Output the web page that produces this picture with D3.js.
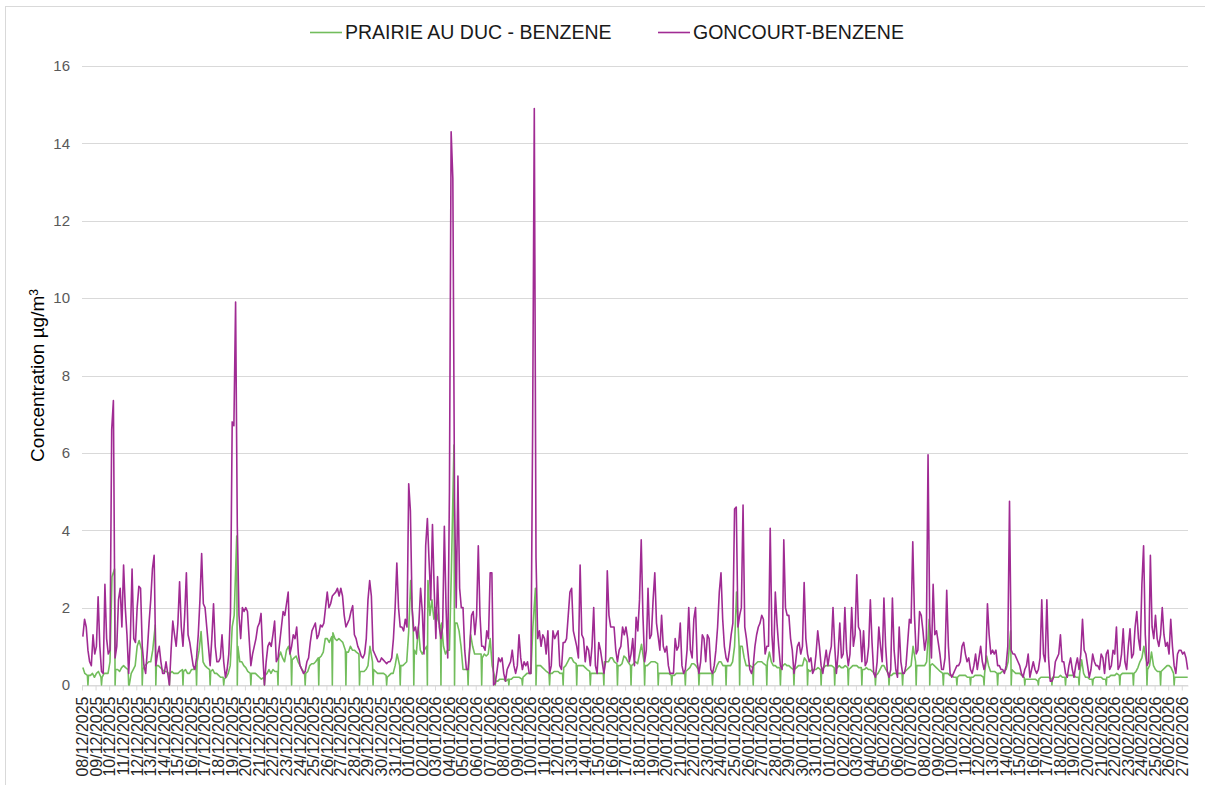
<!DOCTYPE html>
<html>
<head>
<meta charset="utf-8">
<script src="https://cdn.jsdelivr.net/npm/d3@7"></script>
<style>
  body { margin: 0; background: #fff; }
  svg { display: block; font-family: "Liberation Sans", Arial, sans-serif; }
</style>
</head>
<body>
<svg id="chart" width="1205" height="785"></svg>
<script>
// one label per day (category axis labelled every 24 hourly values)
const dayLabels = [
  '08/12/2025','09/12/2025','10/12/2025','11/12/2025','12/12/2025','13/12/2025','14/12/2025','15/12/2025',
  '16/12/2025','17/12/2025','18/12/2025','19/12/2025','20/12/2025','21/12/2025','22/12/2025','23/12/2025',
  '24/12/2025','25/12/2025','26/12/2025','27/12/2025','28/12/2025','29/12/2025','30/12/2025','31/12/2025',
  '01/01/2026','02/01/2026','03/01/2026','04/01/2026','05/01/2026','06/01/2026','07/01/2026','08/01/2026',
  '09/01/2026','10/01/2026','11/01/2026','12/01/2026','13/01/2026','14/01/2026','15/01/2026','16/01/2026',
  '17/01/2026','18/01/2026','19/01/2026','20/01/2026','21/01/2026','22/01/2026','23/01/2026','24/01/2026',
  '25/01/2026','26/01/2026','27/01/2026','28/01/2026','29/01/2026','30/01/2026','31/01/2026','01/02/2026',
  '02/02/2026','03/02/2026','04/02/2026','05/02/2026','06/02/2026','07/02/2026','08/02/2026','09/02/2026',
  '10/02/2026','11/02/2026','12/02/2026','13/02/2026','14/02/2026','15/02/2026','16/02/2026','17/02/2026',
  '18/02/2026','19/02/2026','20/02/2026','21/02/2026','22/02/2026','23/02/2026','24/02/2026','25/02/2026',
  '26/02/2026','27/02/2026'
];

// each row = one day; hour of day of every reading in the row
const goncourtHours = [1.5, 4.5, 7.5, 10.5, 13.5, 16.5, 19.5, 22.5];
// prairie: daily zero reading around 10:30 sits between its two neighbours
const prairieHours = [1.5, 5, 9.5, 10.5, 11.5, 15, 18.5, 22];
const lastHour = 1955;

const yTicks = [0, 2, 4, 6, 8, 10, 12, 14, 16];
const seriesNames = ['PRAIRIE AU DUC - BENZENE', 'GONCOURT-BENZENE'];
const seriesColors = ['#72bd5c', '#a02b93'];

const prairie = [
  [0.45, 0.3, 0.25, 0, 0.25, 0.25, 0.3, 0.2],
  [0.3, 0.35, 0.2, 0, 0.2, 0.3, 0.3, 0.3],
  [0.6, 2.8, 3.0, 0, 0.4, 0.4, 0.35, 0.45],
  [0.5, 0.45, 0.4, 0, 0, 0.3, 0.4, 0.5],
  [1.0, 1.15, 0.9, 0, 0.4, 0.5, 0.55, 0.6],
  [0.6, 0.9, 1.55, 0, 0.5, 0.5, 0.45, 0.4],
  [0.35, 0.35, 0.3, 0, 0.3, 0.35, 0.3, 0.3],
  [0.3, 0.35, 0.4, 0, 0.35, 0.4, 0.3, 0.3],
  [0.4, 0.4, 0.5, 0, 0.6, 0.9, 1.38, 0.6],
  [0.5, 0.45, 0.4, 0, 0.35, 0.4, 0.3, 0.3],
  [0.25, 0.2, 0.2, 0, 0.15, 0.2, 0.3, 0.5],
  [1.5, 1.8, 3.85, 0, 1.0, 0.6, 0.6, 0.5],
  [0.45, 0.35, 0.3, 0, 0.3, 0.3, 0.3, 0.25],
  [0.2, 0.15, 0.2, 0, 0.25, 0.3, 0.4, 0.3],
  [0.4, 0.35, 0.35, 0, 0.7, 0.85, 0.7, 0.6],
  [0.9, 1.0, 0.7, 0, 0.65, 0.7, 0.75, 0.6],
  [0.5, 0.4, 0.3, 0, 0.3, 0.35, 0.5, 0.55],
  [0.55, 0.6, 0.7, 0, 0.7, 0.75, 0.85, 1.2],
  [1.2, 1.1, 1.25, 0, 1.35, 1.2, 1.15, 1.2],
  [1.15, 1.1, 0.9, 0, 0.85, 0.85, 1.0, 0.9],
  [0.9, 0.85, 0.8, 0, 0.35, 0.35, 0.35, 0.4],
  [0.5, 1.0, 0.6, 0, 0.4, 0.35, 0.3, 0.3],
  [0.3, 0.3, 0.25, 0, 0.2, 0.25, 0.3, 0.3],
  [0.5, 0.8, 0.5, 0, 0.5, 0.5, 0.55, 0.6],
  [1.4, 2.7, 1.4, 0, 0.9, 0.8, 1.5, 0.9],
  [0.8, 0.9, 1.0, 0, 2.7, 1.8, 2.2, 1.7],
  [2.0, 1.7, 1.5, 0, 1.6, 1.0, 0.8, 0.9],
  [0.9, 3.0, 6.2, 0, 1.6, 1.6, 1.4, 1.0],
  [0.4, 0.4, 0.4, 0, 0.5, 1.3, 1.0, 0.8],
  [0.8, 0.8, 0.8, 0, 0.7, 0.8, 0.75, 0.8],
  [1.2, 0.5, 0.2, 0, 0.1, 0.1, 0.15, 0.15],
  [0.15, 0.1, 0.15, 0, 0.15, 0.15, 0.2, 0.2],
  [0.2, 0.2, 0.15, 0, 0.2, 0.25, 0.3, 0.3],
  [0.3, 1.5, 2.5, 0, 0.5, 0.5, 0.5, 0.45],
  [0.4, 0.35, 0.3, 0, 0.3, 0.3, 0.35, 0.35],
  [0.35, 0.3, 0.3, 0, 0.45, 0.5, 0.6, 0.7],
  [0.7, 0.6, 0.55, 0, 0.5, 0.5, 0.5, 0.5],
  [0.45, 0.4, 0.35, 0, 0.3, 0.3, 0.3, 0.3],
  [0.3, 0.3, 0.3, 0, 0.6, 0.6, 0.6, 0.7],
  [0.7, 0.6, 0.55, 0, 0.5, 0.5, 0.55, 0.75],
  [0.7, 0.6, 0.5, 0, 0.5, 0.55, 0.6, 0.55],
  [0.8, 1.05, 0.6, 0, 0.5, 0.5, 0.55, 0.6],
  [0.6, 0.6, 0.55, 0, 0.3, 0.3, 0.3, 0.3],
  [0.3, 0.3, 0.25, 0, 0.25, 0.25, 0.3, 0.3],
  [0.3, 0.3, 0.3, 0, 0.35, 0.4, 0.45, 0.55],
  [0.55, 0.5, 0.4, 0, 0.3, 0.3, 0.3, 0.3],
  [0.3, 0.3, 0.3, 0, 0.3, 0.35, 0.5, 0.6],
  [0.6, 0.5, 0.5, 0, 0.5, 0.5, 0.5, 0.6],
  [1.0, 2.4, 1.0, 0, 1.0, 1.0, 0.7, 0.5],
  [0.5, 0.5, 0.45, 0, 0.5, 0.55, 0.6, 0.6],
  [0.6, 0.55, 0.5, 0, 0.6, 0.85, 0.6, 0.5],
  [0.5, 0.45, 0.45, 0, 0.4, 0.5, 0.55, 0.5],
  [0.5, 0.45, 0.4, 0, 0.4, 0.45, 0.5, 0.5],
  [0.5, 0.7, 0.6, 0, 0.4, 0.35, 0.4, 0.4],
  [0.4, 0.45, 0.4, 0, 0.4, 0.45, 0.5, 0.5],
  [0.5, 0.5, 0.45, 0, 0.4, 0.45, 0.5, 0.45],
  [0.45, 0.5, 0.45, 0, 0.4, 0.45, 0.5, 0.5],
  [0.5, 0.45, 0.45, 0, 0.4, 0.4, 0.45, 0.4],
  [0.4, 0.35, 0.3, 0, 0.25, 0.3, 0.4, 0.5],
  [0.5, 0.4, 0.3, 0, 0.25, 0.25, 0.3, 0.3],
  [0.3, 0.3, 0.3, 0, 0.3, 0.35, 0.4, 0.45],
  [0.5, 1.0, 0.6, 0, 0.5, 0.5, 0.5, 0.5],
  [0.5, 0.6, 1.7, 0, 0.5, 0.55, 0.5, 0.45],
  [0.4, 0.35, 0.3, 0, 0.3, 0.3, 0.3, 0.25],
  [0.25, 0.2, 0.2, 0, 0.2, 0.25, 0.25, 0.25],
  [0.25, 0.2, 0.2, 0, 0.2, 0.2, 0.25, 0.25],
  [0.25, 0.25, 0.2, 0, 0.3, 0.75, 0.5, 0.35],
  [0.35, 0.35, 0.3, 0, 0.3, 0.3, 0.35, 0.35],
  [0.4, 0.6, 1.4, 0, 0.4, 0.35, 0.3, 0.3],
  [0.3, 0.25, 0.2, 0, 0.15, 0.15, 0.15, 0.15],
  [0.15, 0.15, 0.1, 0, 0.15, 0.2, 0.2, 0.2],
  [0.2, 0.2, 0.15, 0, 0.2, 0.2, 0.2, 0.2],
  [0.25, 0.2, 0.2, 0, 0.2, 0.25, 0.25, 0.25],
  [0.25, 0.2, 0.2, 0, 0.3, 0.65, 0.3, 0.2],
  [0.2, 0.15, 0.15, 0, 0.15, 0.2, 0.2, 0.2],
  [0.2, 0.15, 0.15, 0, 0.2, 0.2, 0.25, 0.25],
  [0.25, 0.3, 0.25, 0, 0.25, 0.3, 0.3, 0.3],
  [0.3, 0.3, 0.3, 0, 0.3, 0.35, 0.45, 0.6],
  [0.7, 1.0, 0.6, 0, 0.4, 0.5, 0.85, 0.5],
  [0.4, 0.35, 0.35, 0, 0.35, 0.4, 0.45, 0.5],
  [0.5, 0.45, 0.3, 0, 0.2, 0.2, 0.2, 0.2],
  [0.2, 0.2, 0.2, 0.2]
];

const goncourt = [
  [1.25, 1.7, 1.5, 0.9, 0.6, 0.5, 1.3, 0.8],
  [1.0, 2.28, 1.0, 0.35, 0.3, 2.6, 1.2, 0.8],
  [0.9, 6.6, 7.35, 0.7, 1.0, 2.2, 2.5, 1.5],
  [3.1, 2.0, 1.3, 0.3, 1.2, 3.0, 1.2, 1.1],
  [2.0, 2.55, 2.5, 1.0, 0.5, 0.3, 0.9, 1.6],
  [2.2, 3.0, 3.35, 0.5, 0.8, 1.0, 0.6, 0.3],
  [0.3, 0.6, 0.3, 0.0, 0.9, 1.65, 1.3, 1.0],
  [1.6, 2.67, 1.5, 1.0, 1.8, 2.9, 1.3, 1.1],
  [0.8, 0.5, 0.4, 0.7, 1.3, 2.2, 3.4, 2.1],
  [2.0, 1.5, 1.0, 0.5, 1.2, 2.1, 1.0, 0.6],
  [0.6, 0.7, 1.3, 0.6, 0.2, 0.4, 0.8, 1.9],
  [6.8, 6.7, 9.9, 4.1, 1.8, 1.2, 2.0, 1.9],
  [2.0, 1.9, 1.2, 0.5, 0.8, 1.0, 1.2, 1.5],
  [1.6, 1.85, 0.8, 0.0, 0.6, 1.0, 1.1, 1.0],
  [1.3, 1.65, 0.6, 0.7, 1.1, 1.5, 1.9, 1.8],
  [2.1, 2.4, 0.8, 1.0, 1.3, 1.2, 1.5, 0.8],
  [0.5, 0.4, 0.3, 0.35, 0.6, 0.7, 1.1, 1.4],
  [1.5, 1.6, 1.2, 1.3, 1.55, 1.5, 1.6, 2.0],
  [2.4, 2.0, 2.1, 2.3, 2.35, 2.4, 2.5, 2.3],
  [2.5, 2.3, 1.8, 1.5, 1.6, 1.7, 1.9, 2.05],
  [1.3, 1.2, 1.0, 0.9, 0.75, 0.7, 0.8, 1.2],
  [2.2, 2.7, 2.3, 0.9, 0.8, 0.7, 0.6, 0.6],
  [0.7, 0.65, 0.6, 0.55, 0.6, 0.6, 0.7, 1.2],
  [2.0, 3.15, 2.0, 1.5, 1.5, 1.4, 1.7, 1.5],
  [5.2, 4.5, 2.0, 1.4, 1.5, 1.2, 1.6, 2.5],
  [1.9, 0.8, 3.6, 4.3, 3.2, 2.2, 4.15, 2.5],
  [1.2, 2.8, 1.5, 1.2, 1.5, 4.1, 2.0, 0.7],
  [5.0, 14.3, 13.1, 4.8, 2.0, 5.4, 2.5, 2.0],
  [2.0, 0.9, 0.4, 0.4, 1.0, 1.8, 1.9, 1.3],
  [1.8, 3.6, 1.8, 1.0, 1.0, 0.9, 1.4, 1.2],
  [2.9, 2.9, 0.0, 0.05, 0.35, 0.7, 0.6, 0.7],
  [0.3, 0.1, 0.4, 0.5, 0.6, 0.9, 0.5, 0.3],
  [0.5, 1.3, 0.7, 0.4, 0.6, 0.5, 0.6, 0.3],
  [0.3, 6.5, 14.9, 3.3, 1.2, 1.4, 1.0, 1.3],
  [1.2, 0.8, 1.4, 0.3, 0.5, 1.4, 1.2, 1.3],
  [1.4, 0.5, 0.4, 1.1, 1.1, 1.2, 1.8, 2.4],
  [2.5, 1.4, 1.2, 1.0, 0.7, 3.1, 1.3, 1.2],
  [0.6, 1.0, 0.9, 0.5, 1.0, 2.0, 0.5, 0.3],
  [1.1, 0.9, 0.6, 0.3, 0.6, 2.95, 1.8, 1.5],
  [1.5, 1.5, 0.9, 0.6, 0.9, 1.0, 1.5, 1.3],
  [1.5, 1.2, 0.6, 0.8, 1.2, 0.5, 1.75, 1.4],
  [2.2, 3.75, 1.8, 0.6, 0.9, 2.5, 1.2, 1.3],
  [2.2, 2.9, 1.6, 1.25, 0.9, 1.8, 1.0, 0.85],
  [1.0, 0.5, 0.3, 0.3, 0.3, 1.2, 0.9, 1.0],
  [1.6, 0.5, 0.3, 0.4, 0.9, 2.0, 0.9, 0.7],
  [1.7, 2.0, 0.6, 0.3, 0.6, 1.3, 1.2, 0.6],
  [1.3, 1.2, 0.4, 0.3, 0.5, 0.9, 1.5, 2.4],
  [2.9, 1.7, 1.0, 0.7, 0.6, 0.9, 1.3, 1.6],
  [4.55, 4.6, 1.5, 1.8, 2.0, 4.65, 1.5, 1.2],
  [0.8, 0.4, 0.3, 0.5, 1.0, 1.3, 1.5, 1.6],
  [1.8, 1.7, 0.8, 1.0, 1.0, 4.05, 1.3, 0.6],
  [2.4, 1.6, 1.0, 0.5, 0.4, 3.75, 2.0, 1.8],
  [1.8, 1.2, 0.9, 0.3, 0.6, 1.0, 1.1, 0.8],
  [1.0, 2.65, 1.2, 0.8, 0.6, 0.7, 0.3, 0.4],
  [0.8, 1.4, 1.0, 0.5, 0.3, 0.6, 0.9, 0.5],
  [0.8, 1.0, 2.0, 1.0, 0.3, 0.8, 1.6, 0.7],
  [0.8, 2.0, 0.9, 0.5, 0.8, 2.0, 1.0, 1.3],
  [2.85, 1.5, 1.4, 0.6, 1.4, 0.5, 0.6, 1.0],
  [2.2, 1.1, 0.3, 0.2, 0.6, 1.5, 1.0, 0.6],
  [2.25, 1.0, 0.35, 0.2, 0.4, 2.25, 0.9, 0.4],
  [0.2, 1.5, 0.6, 0.3, 0.3, 0.5, 1.1, 1.7],
  [1.6, 3.7, 1.8, 0.8, 0.9, 1.9, 1.8, 1.4],
  [0.9, 1.2, 5.95, 1.6, 0.7, 2.6, 1.3, 1.4],
  [1.1, 0.8, 0.4, 0.4, 0.7, 2.45, 1.0, 0.3],
  [0.2, 0.3, 0.4, 0.5, 0.5, 0.6, 1.0, 1.1],
  [0.8, 0.6, 0.7, 0.4, 0.3, 0.5, 0.8, 0.4],
  [0.7, 1.0, 0.6, 0.4, 0.6, 2.1, 1.3, 0.8],
  [0.9, 0.8, 0.9, 0.5, 0.5, 0.4, 0.4, 0.3],
  [0.5, 1.0, 4.75, 0.9, 0.8, 0.8, 0.7, 0.6],
  [0.5, 0.3, 0.2, 0.4, 0.5, 0.8, 0.2, 0.4],
  [0.6, 0.4, 0.3, 0.4, 0.7, 2.2, 0.8, 0.6],
  [2.2, 0.7, 0.1, 0.1, 0.2, 0.6, 0.7, 0.8],
  [1.3, 0.6, 0.6, 0.3, 0.2, 0.5, 0.7, 0.4],
  [0.2, 0.5, 0.7, 0.4, 0.8, 1.7, 0.9, 0.8],
  [0.5, 0.2, 0.4, 0.8, 0.6, 0.5, 0.5, 0.4],
  [0.8, 0.7, 0.3, 0.8, 0.9, 0.4, 0.5, 0.9],
  [0.8, 1.5, 0.4, 0.5, 0.8, 1.45, 0.6, 0.4],
  [1.0, 1.45, 0.7, 0.8, 1.5, 1.9, 1.2, 0.9],
  [2.6, 3.6, 1.3, 0.5, 0.6, 3.35, 1.5, 1.2],
  [1.8, 1.2, 1.0, 1.3, 2.0, 1.3, 1.0, 1.1],
  [0.8, 1.7, 1.0, 0.5, 0.3, 0.8, 0.9, 0.9],
  [0.8, 0.85, 0.7, 0.4]
];

const svg = d3.select('#chart');
const width = 1205;
const height = 785;
const margin = { left: 82, right: 17, top: 66, bottom: 100 };

const x = d3.scaleLinear()
  .domain([0, lastHour])
  .range([margin.left, width - margin.right]);

const y = d3.scaleLinear()
  .domain([0, 16])
  .range([height - margin.bottom, margin.top]);

// chart frame
svg.append('rect')
  .attr('x', 5.5).attr('y', 6.5)
  .attr('width', width + 20).attr('height', height + 20)
  .attr('fill', 'none')
  .attr('stroke', '#d9d9d9');

// gridlines
svg.append('g')
  .selectAll('line')
  .data(yTicks)
  .join('line')
    .attr('x1', x(0)).attr('x2', x(lastHour))
    .attr('y1', d => Math.round(y(d)) + 0.5)
    .attr('y2', d => Math.round(y(d)) + 0.5)
    .attr('stroke', '#d9d9d9')
    .attr('stroke-width', 1);

// y axis labels
const yAxis = svg.append('g')
  .attr('transform', `translate(${margin.left},0)`)
  .call(d3.axisLeft(y).tickValues(yTicks).tickSize(0).tickPadding(12));
yAxis.select('.domain').remove();
yAxis.selectAll('text')
  .attr('fill', '#595959')
  .style('font-size', '15px')
  .style('font-family', '"Liberation Sans", Arial, sans-serif');

// x axis, one tick per day
const dayTicks = dayLabels.map((d, i) => i * 24);
const xAxis = svg.append('g')
  .attr('transform', `translate(0,${Math.round(y(0)) + 0.5})`)
  .call(d3.axisBottom(x)
    .tickValues(dayTicks)
    .tickFormat((d, i) => dayLabels[i])
    .tickSize(5)
    .tickSizeOuter(0));
xAxis.select('.domain').attr('stroke', '#d9d9d9');
xAxis.selectAll('.tick line').attr('stroke', '#d9d9d9');
xAxis.selectAll('text')
  .attr('transform', 'rotate(-90)')
  .attr('x', -11)
  .attr('y', 0)
  .attr('dy', '0.36em')
  .attr('fill', '#262626')
  .style('text-anchor', 'end')
  .style('font-size', '16px')
  .style('font-family', '"Liberation Sans", Arial, sans-serif');

// y title
svg.append('text')
  .attr('transform', `translate(44,${y(8)}) rotate(-90)`)
  .attr('text-anchor', 'middle')
  .attr('fill', '#000')
  .style('font-size', '19px')
  .text('Concentration µg/m')
  .append('tspan')
    .attr('dy', '-0.5em')
    .style('font-size', '12px')
    .text('3');

// series lines
const toPoints = (rows, hours) => rows.flatMap((row, d) =>
  row.map((v, k) => ({ h: d * 24 + hours[k], v })));

const line = d3.line()
  .x(p => x(p.h))
  .y(p => y(p.v));

[[prairie, prairieHours], [goncourt, goncourtHours]].forEach(([rows, hours], i) => {
  svg.append('path')
    .datum(toPoints(rows, hours))
    .attr('fill', 'none')
    .attr('stroke', seriesColors[i])
    .attr('stroke-width', 1.6)
    .attr('stroke-linejoin', 'round')
    .attr('d', line);
});

// legend
const legendX = [310, 658];
const legend = svg.append('g');
seriesNames.forEach((name, i) => {
  legend.append('line')
    .attr('x1', legendX[i]).attr('x2', legendX[i] + 32)
    .attr('y1', 32.5).attr('y2', 32.5)
    .attr('stroke', seriesColors[i])
    .attr('stroke-width', 1.6);
  legend.append('text')
    .attr('x', legendX[i] + 35)
    .attr('y', 32)
    .attr('dy', '0.35em')
    .attr('fill', '#1a1a1a')
    .style('font-size', '19.5px')
    .text(name);
});
</script>
</body>
</html>
